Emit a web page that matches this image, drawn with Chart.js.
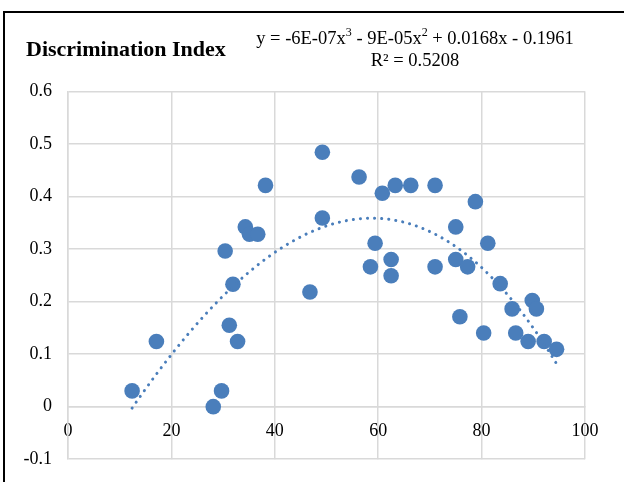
<!DOCTYPE html>
<html>
<head>
<meta charset="utf-8">
<script src="https://cdn.jsdelivr.net/npm/chart.js@4.4.1/dist/chart.umd.min.js"></script>
<style>
  html, body { margin: 0; padding: 0; background: #fff; overflow: hidden; }
  body { width: 624px; height: 482px; position: relative; font-family: 'Liberation Serif', 'Times New Roman', serif; }
  #frame { position: absolute; left: 3px; top: 11px; width: 660px; height: 520px; border: 2px solid #000; box-sizing: border-box; }
  #cv { position: absolute; left: 0; top: 0; }
  #title { position: absolute; left: 26px; top: 37.5px; font-size: 22px; font-weight: bold; line-height: 22px; white-space: nowrap; color: #000; }
  #eq { position: absolute; left: 215px; width: 400px; top: 28px; font-size: 18.5px; line-height: 21.7px; text-align: center; white-space: nowrap; color: #000; }
  #eq sup { font-size: 12px; line-height: 0; position: relative; top: -1px; }
</style>
</head>
<body>
<div id="frame"></div>
<canvas id="cv" width="624" height="486"></canvas>
<div id="title">Discrimination Index</div>
<div id="eq">y = -6E-07x<sup>3</sup> - 9E-05x<sup>2</sup> + 0.0168x - 0.1961<br>R² = 0.5208</div>
<script>
const scoreX = [12.4,17.1,28.1,29.7,30.4,31.2,31.9,32.8,34.3,35.1,36.7,38.2,46.8,49.2,49.2,56.3,60.8,63.3,66.3,71.0,78.8,75.0,59.4,81.2,58.5,62.5,62.5,71.0,75.0,77.3,83.6,75.8,80.4,85.9,89.8,90.6,86.6,89.0,92.1,94.5];
const discIndex = [0.030,0.124,0.000,0.030,0.296,0.155,0.233,0.124,0.342,0.328,0.328,0.421,0.218,0.484,0.359,0.437,0.406,0.421,0.421,0.421,0.390,0.342,0.311,0.311,0.266,0.280,0.249,0.266,0.280,0.266,0.234,0.171,0.140,0.186,0.202,0.186,0.140,0.124,0.124,0.109];
// Trendline coefficients as printed on the chart: a3, a2, a1, a0
const trendCoefficients = [-6e-7, -9e-5, 0.0168, -0.1961];
const xTicks = [0, 20, 40, 60, 80, 100];
const yTicks = [-0.1, 0, 0.1, 0.2, 0.3, 0.4, 0.5, 0.6];

const points = scoreX.map((x, i) => ({ x: x, y: discIndex[i] }));
const xMin = Math.min(...scoreX), xMax = Math.max(...scoreX);
const trend = [];
for (let x = xMin; x <= xMax + 1e-9; x += 0.5) {
  const [a3, a2, a1, a0] = trendCoefficients;
  trend.push({ x: x, y: a3 * x * x * x + a2 * x * x + a1 * x + a0 });
}

const blue = '#4A7EBB';
const grid = '#D9D9D9';
const tickFont = { family: "'Liberation Serif', 'Times New Roman', serif", size: 18 };

new Chart(document.getElementById('cv'), {
  type: 'scatter',
  data: {
    datasets: [
      {
        label: 'Trend',
        data: trend,
        showLine: true,
        pointRadius: 0,
        borderColor: blue,
        borderWidth: 3,
        borderDash: [0.1, 7],
        borderCapStyle: 'round',
        fill: false,
        tension: 0
      },
      {
        label: 'Discrimination Index',
        data: points,
        pointRadius: 7.8,
        pointHoverRadius: 7.8,
        backgroundColor: blue,
        borderColor: blue,
        borderWidth: 0
      }
    ]
  },
  options: {
    responsive: false,
    animation: false,
    devicePixelRatio: 1,
    layout: { padding: { left: 0, top: 91.3, right: 39, bottom: 18.9 } },
    plugins: { legend: { display: false }, tooltip: { enabled: false }, title: { display: false } },
    scales: {
      x: {
        type: 'linear',
        position: { y: 0 },
        min: 0, max: 100,
        afterBuildTicks: (s) => { s.ticks = xTicks.map(v => ({ value: v })); },
        ticks: { color: '#000', font: tickFont, padding: 14, maxRotation: 0, autoSkip: false },
        grid: { color: grid, lineWidth: 1.5, drawTicks: false },
        border: { display: true, color: grid, width: 1.5 }
      },
      y: {
        type: 'linear',
        position: 'left',
        min: -0.1, max: 0.6,
        afterBuildTicks: (s) => { s.ticks = yTicks.map(v => ({ value: v })); },
        afterFit: (s) => { s.width = 68; },
        ticks: {
          color: '#000', font: tickFont, padding: 16, autoSkip: false,
          callback: (v) => String(Number(v.toFixed(1)))
        },
        grid: { color: grid, lineWidth: 1.5, drawTicks: false },
        border: { display: true, color: grid, width: 1.5 }
      }
    }
  }
});
</script>
</body>
</html>
